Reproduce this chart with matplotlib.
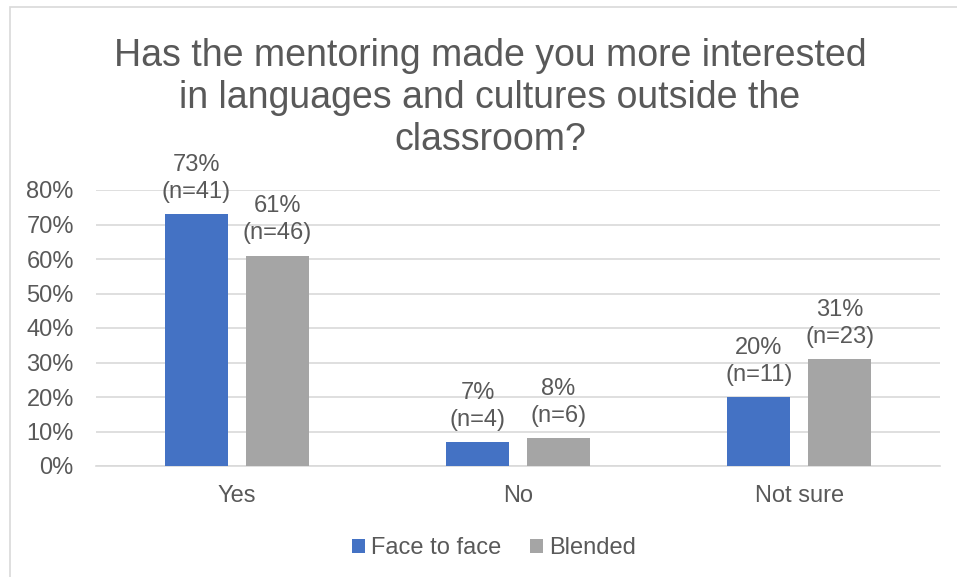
import matplotlib
matplotlib.use("Agg")
import matplotlib.pyplot as plt
from matplotlib.patches import Rectangle
import numpy as np

plt.rcParams['font.family'] = ['Liberation Sans', 'DejaVu Sans']

categories = ["Yes", "No", "Not sure"]
series_names = ["Face to face", "Blended"]
face_to_face = [73, 7, 20]
blended = [61, 8, 31]
face_to_face_n = [41, 4, 11]
blended_n = [46, 6, 23]
y_ticks = [0, 10, 20, 30, 40, 50, 60, 70, 80]

BLUE = "#4472C4"
GRAY = "#A5A5A5"
TEXT = "#595959"
GRID = "#D9D9D9"
FS = 17

fig = plt.figure(figsize=(9.57, 5.77), dpi=100)
W, H = 957, 577

# outer chart frame (left and top edges visible)
fig.patches.append(Rectangle((10 / W, -0.1), 1.2, 1 - 7 / H + 0.1,
                             transform=fig.transFigure, fill=False,
                             edgecolor="#D9D9D9", linewidth=1.2))

ax = fig.add_axes([96 / W, 1 - 466 / H, (940 - 96) / W, (466 - 190) / H])

x = np.arange(len(categories))
width = 0.224
offset = 0.144

b1 = ax.bar(x - offset, face_to_face, width, color=BLUE, label=series_names[0], zorder=3)
b2 = ax.bar(x + offset, blended, width, color=GRAY, label=series_names[1], zorder=3)

for bars, vals, ns in ((b1, face_to_face, face_to_face_n), (b2, blended, blended_n)):
    for rect, v, n in zip(bars, vals, ns):
        ax.annotate(f"{v}%\n(n={n})", (rect.get_x() + rect.get_width() / 2, v),
                    xytext=(0, 8), textcoords="offset points",
                    ha="center", va="bottom", fontsize=FS, color=TEXT,
                    linespacing=1.3, zorder=4, annotation_clip=False)

ax.set_xlim(-0.5, len(categories) - 0.5)
ax.set_ylim(0, 80)
ax.set_yticks(y_ticks)
ax.set_yticklabels([f"{t}%" for t in y_ticks])
ax.set_xticks(x)
ax.set_xticklabels(categories)
ax.tick_params(axis="both", length=0, labelsize=FS, labelcolor=TEXT)
ax.tick_params(axis="y", pad=16)
ax.tick_params(axis="x", pad=14)
ax.yaxis.grid(True, color=GRID, linewidth=1.2, zorder=0)
for s in ("top", "right", "left"):
    ax.spines[s].set_visible(False)
ax.spines["bottom"].set_color(GRID)
ax.spines["bottom"].set_linewidth(1.2)

fig.text(490 / W, 1 - 98 / H,
         "Has the mentoring made you more interested\nin languages and cultures outside the\nclassroom?",
         ha="center", va="center", fontsize=27, color=TEXT, linespacing=1.23)

fig.legend(handles=[b1, b2], labels=series_names, loc="center",
           bbox_to_anchor=(494 / W, 1 - 548 / H), ncol=2, frameon=False,
           fontsize=FS, labelcolor=TEXT, handlelength=0.55, handleheight=0.55,
           handletextpad=0.25, columnspacing=1.2)

fig.savefig("out.png", dpi=100)
